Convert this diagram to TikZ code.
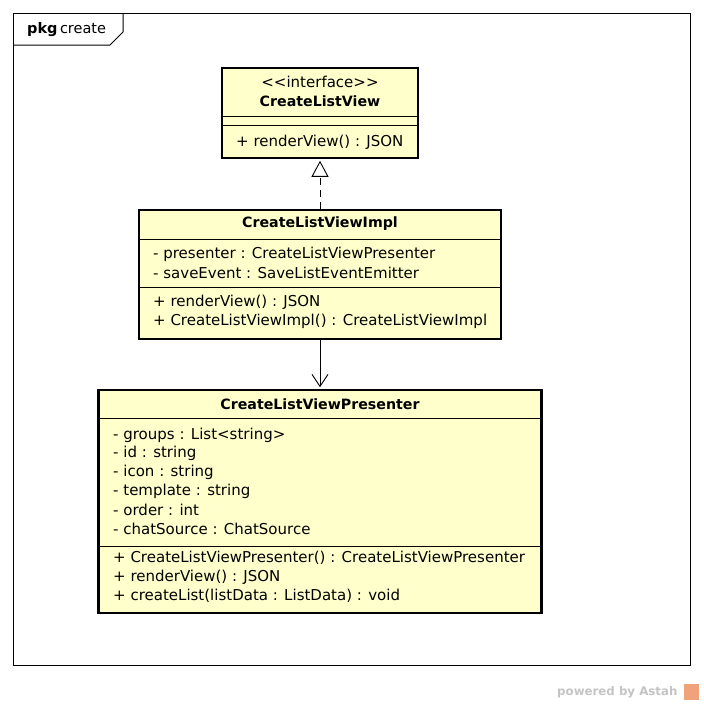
\documentclass[tikz,border=0pt]{standalone}
\usepackage{fontspec}
\setmainfont{DejaVu Sans}
\usetikzlibrary{arrows.meta}
\definecolor{classfill}{HTML}{FFFFCC}
\definecolor{astahgray}{HTML}{C4C4C4}
\definecolor{astahorange}{HTML}{F0A27A}
\begin{document}
\begin{tikzpicture}[x=1pt,y=-1pt,
  classbox/.style={draw=black, line width=2.6pt, fill=classfill, inner sep=0pt},
  divider/.style={line width=0.8pt},
  txt/.style={inner sep=0pt, font=\fontsize{15}{17}\selectfont},
  ttl/.style={inner sep=0pt, font=\fontsize{14.2}{17}\selectfont\bfseries},
  lft/.style={txt, anchor=west},
]
\useasboundingbox (0,0) rectangle (704,705);
\fill[white] (0,0) rectangle (704,705);
% frame
\draw[line width=1pt] (13,13) rectangle (690,665);
\draw[line width=1pt] (13,45) -- (110,45) -- (123,32) -- (123,13);
\node[anchor=west, inner sep=0pt, font=\fontsize{14.5}{17}\selectfont] (pkg) at (27,30) {\textbf{pkg}\,create};

% CreateListView
\node[classbox, minimum width=196pt, minimum height=90pt] (lv) at (320,113) {};
\draw[divider] (222,116) -- (418,116);
\draw[divider] (222,125) -- (418,125);
\node[txt] (lvst) at (320,82) {<{}<interface>{}>};
\node[ttl] (lvname) at (320,101) {CreateListView};
\node[lft] (lvm1) at (236,142) {+ renderView() : JSON};

% CreateListViewImpl
\node[classbox, minimum width=362pt, minimum height=129pt] (impl) at (320,274.5) {};
\draw[divider] (139,239) -- (501,239);
\draw[divider] (139,287) -- (501,287);
\node[ttl] (implname) at (320,224) {CreateListViewImpl};
\node[lft] (ia1) at (153,254) {- presenter : CreateListViewPresenter};
\node[lft] (ia2) at (153,273) {- saveEvent : SaveListEventEmitter};
\node[lft] (im1) at (153,302) {+ renderView() : JSON};
\node[lft] (im2) at (153,321) {+ CreateListViewImpl() : CreateListViewImpl};

% CreateListViewPresenter
\node[classbox, minimum width=443pt, minimum height=223pt] (pres) at (320,501.5) {};
\draw[divider] (98.5,418) -- (541.5,418);
\draw[divider] (98.5,546) -- (541.5,546);
\node[ttl] (presname) at (320,404) {CreateListViewPresenter};
\node[lft] (pa1) at (113,435) {- groups : List<string>};
\node[lft] (pa2) at (113,453) {- id : string};
\node[lft] (pa3) at (113,472) {- icon : string};
\node[lft] (pa4) at (113,491) {- template : string};
\node[lft] (pa5) at (113,510) {- order : int};
\node[lft] (pa6) at (113,529) {- chatSource : ChatSource};
\node[lft] (pm1) at (113,558) {+ CreateListViewPresenter() : CreateListViewPresenter};
\node[lft] (pm2) at (113,577) {+ renderView() : JSON};
\node[lft] (pm3) at (113,596) {+ createList(listData : ListData) : void};

% connectors
\draw[line width=0.8pt, dash pattern=on 7pt off 5pt, -{Triangle[open, length=16pt, width=17pt, line width=0.9pt]}]
  (impl.north) -- ([yshift=-1.5pt]lv.south);
\draw[line width=0.8pt, -{Straight Barb[length=12pt, width=16pt, line width=0.9pt]}]
  (impl.south) -- ([yshift=1.5pt]pres.north);

% powered by
\node[anchor=west, inner sep=0pt, text=astahgray, font=\fontsize{11.8}{14}\selectfont\bfseries] (pw) at (557,692) {powered by Astah};
\fill[astahorange] (684,684) rectangle (699,700);
\end{tikzpicture}
\end{document}
